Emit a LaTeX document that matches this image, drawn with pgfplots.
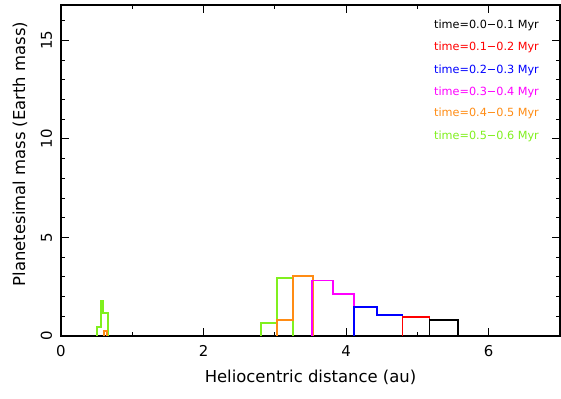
\documentclass[border=0pt]{standalone}
\usepackage{fontspec}
\setmainfont{DejaVu Sans}
\usepackage{pgfplots}
\pgfplotsset{compat=1.18}
\definecolor{cgreen}{RGB}{128,240,30}
\definecolor{corange}{RGB}{255,140,20}
\definecolor{cmag}{RGB}{255,0,255}
\begin{document}
\begin{tikzpicture}
\begin{axis}[
  name=ax,
  at={(0,0)}, anchor=south west,
  width=499bp, height=331bp, scale only axis,
  xmin=0, xmax=7, ymin=0, ymax=16.8,
  xtick={0,2,4,6}, minor xtick={1,3,5,7},
  ytick={0,5,10,15}, minor ytick={1,2,3,4,6,7,8,9,11,12,13,14,16},
  tick align=inside,
  major tick length=8bp, minor tick length=4bp,
  every tick/.style={black, line width=1bp},
  axis line style={line width=1.2bp},
  tick label style={font=\fontsize{15}{17}\selectfont},
  /pgf/number format/assume math mode=true,
  xticklabel shift=6bp,
  yticklabel style={rotate=90, anchor=south},
  yticklabel shift=5.5bp,
  xlabel={Heliocentric distance (au)},
  ylabel={Planetesimal mass (Earth mass)},
  label style={font=\fontsize{16.5}{19}\selectfont},
  xlabel style={at={(axis description cs:0.5,-0.124)}, anchor=center},
  ylabel style={at={(axis description cs:-0.082,0.55)}, anchor=center},
  every axis plot/.append style={const plot, line width=1.8bp, mark=none},
  clip=false,
]
% green: 0.5-0.6 Myr
\addplot[cgreen] coordinates {(0.51,0) (0.51,0.47) (0.56,1.79) (0.59,1.15) (0.66,0)};
\addplot[cgreen] coordinates {(2.80,0) (2.80,0.66) (3.03,2.93) (3.26,0)};
% orange: 0.4-0.5 Myr
\addplot[corange] coordinates {(0.60,0) (0.60,0.24) (0.65,0)};
\addplot[corange] coordinates {(3.03,0) (3.03,0.83) (3.26,3.04) (3.53,0)};
% magenta: 0.3-0.4 Myr
\addplot[cmag] coordinates {(3.52,0) (3.52,2.82) (3.81,2.15) (4.11,0)};
% blue: 0.2-0.3 Myr
\addplot[blue] coordinates {(4.11,0) (4.11,1.47) (4.43,1.08) (4.79,0)};
% red: 0.1-0.2 Myr
\addplot[red] coordinates {(4.79,0) (4.79,0.98) (5.17,0)};
% black: 0.0-0.1 Myr
\addplot[black] coordinates {(5.17,0) (5.17,0.80) (5.57,0)};
\begin{scope}[every node/.style={anchor=east, font=\fontsize{11.3}{13}\selectfont, inner sep=0pt}]
\node[black]   at (rel axis cs:0.958,0.9375) {time=0.0−0.1 Myr};
\node[red]     at (rel axis cs:0.958,0.872) {time=0.1−0.2 Myr};
\node[blue]    at (rel axis cs:0.958,0.803) {time=0.2−0.3 Myr};
\node[cmag]    at (rel axis cs:0.958,0.737) {time=0.3−0.4 Myr};
\node[corange] at (rel axis cs:0.958,0.674) {time=0.4−0.5 Myr};
\node[cgreen]  at (rel axis cs:0.958,0.604) {time=0.5−0.6 Myr};
\end{scope}
\end{axis}
\path ([shift={(-61bp,-63bp)}]ax.south west) rectangle ([shift={(1bp,5bp)}]ax.north east);
\end{tikzpicture}
\end{document}
